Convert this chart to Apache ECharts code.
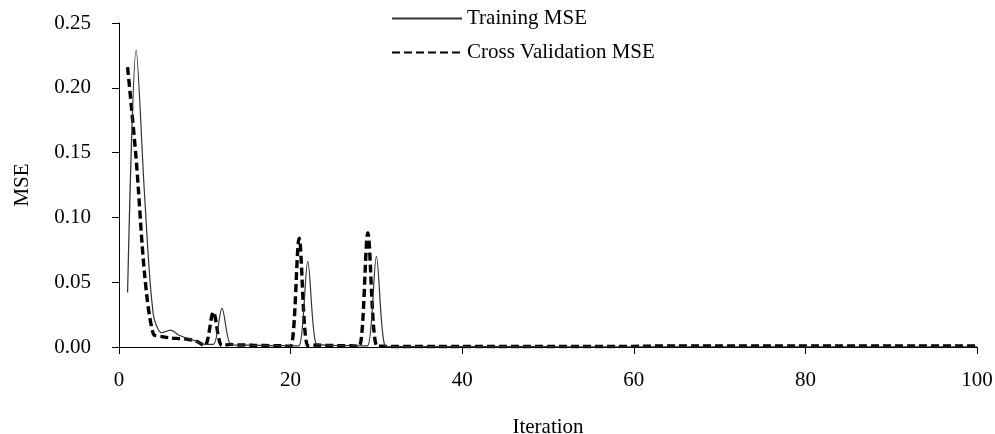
<!DOCTYPE html>
<html>
<head>
<meta charset="utf-8">
<script src="https://cdn.jsdelivr.net/npm/echarts@6/dist/echarts.min.js"></script>
<style>html,body{margin:0;padding:0;background:#fff;overflow:hidden}#c{width:995px;height:434px}</style>
</head>
<body>
<div id="c"></div>
<script>
var trainingMSE = [
  0.042, 0.229, 0.115, 0.025, 0.011, 0.013, 0.009, 0.0065, 0.0045, 0.002,
  0.002, 0.030, 0.002, 0.0015, 0.0015, 0.0012, 0.0012, 0.001, 0.001, 0.0008,
  0.001, 0.066, 0.002, 0.0015, 0.0012, 0.001, 0.001, 0.0008, 0.001, 0.070,
  0.001, 0.0004, 0.0004, 0.0003, 0.0003, 0.0003, 0.0003, 0.0003, 0.0003, 0.0003,
  0.0003, 0.0003, 0.0003, 0.0003, 0.0003, 0.0003, 0.0003, 0.0003, 0.0003, 0.0003,
  0.0002, 0.0002, 0.0002, 0.0002, 0.0002, 0.0002, 0.0002, 0.0002, 0.0002, 0.0002,
  0.0002, 0.0002, 0.0002, 0.0002, 0.0002, 0.0002, 0.0002, 0.0002, 0.0002, 0.0002,
  0.0002, 0.0002, 0.0002, 0.0002, 0.0002, 0.0002, 0.0002, 0.0002, 0.0002, 0.0002,
  0.0002, 0.0002, 0.0002, 0.0002, 0.0002, 0.0002, 0.0002, 0.0002, 0.0002, 0.0002,
  0.0002, 0.0002, 0.0002, 0.0002, 0.0002, 0.0002, 0.0002, 0.0002, 0.0002, 0.0002
];
var crossValidationMSE = [
  0.216, 0.145, 0.055, 0.010, 0.008, 0.007, 0.0065, 0.006, 0.0045, 0.001,
  0.027, 0.001, 0.002, 0.0015, 0.0015, 0.0012, 0.0012, 0.001, 0.001, 0.0005,
  0.084, 0.001, 0.0015, 0.0012, 0.0012, 0.001, 0.001, 0.0005, 0.088, 0.001,
  0.0005, 0.0004, 0.0004, 0.0004, 0.0004, 0.0004, 0.0004, 0.0004, 0.0004, 0.0004,
  0.0004, 0.0004, 0.0004, 0.0004, 0.0004, 0.0004, 0.0004, 0.0004, 0.0004, 0.0004,
  0.0004, 0.0004, 0.0004, 0.0004, 0.0004, 0.0004, 0.0004, 0.0004, 0.0005, 0.0005,
  0.0006, 0.0007, 0.0008, 0.0008, 0.0008, 0.0008, 0.0008, 0.0008, 0.0008, 0.0008,
  0.0008, 0.0008, 0.0008, 0.0008, 0.0008, 0.0008, 0.0008, 0.0008, 0.0008, 0.0008,
  0.0008, 0.0008, 0.0008, 0.0008, 0.0008, 0.0008, 0.0008, 0.0008, 0.0008, 0.0008,
  0.0008, 0.0008, 0.0008, 0.0008, 0.0008, 0.0008, 0.0008, 0.0008, 0.0008, 0.0008
];
var seriesNames = ['Training MSE', 'Cross Validation MSE'];
var xTicks = [0, 20, 40, 60, 80, 100];
var yTicks = [0, 0.05, 0.10, 0.15, 0.20, 0.25];

function pairs(arr) { return arr.map(function (v, i) { return [i + 1, v]; }); }

var font = 'Liberation Serif, Times New Roman, serif';
var chart = echarts.init(document.getElementById('c'), null, {renderer: 'canvas'});
chart.setOption({
  animation: false,
  backgroundColor: '#fff',
  grid: {left: 119, right: 18, top: 23, bottom: 87, containLabel: false, outerBoundsMode: 'none'},
  legend: {
    orient: 'vertical', left: 386, top: 3, itemWidth: 70, itemHeight: 12, itemGap: 13,
    itemStyle: {opacity: 0},
    textStyle: {fontFamily: font, fontSize: 21, color: '#000'},
    data: seriesNames
  },
  xAxis: {
    type: 'value', min: xTicks[0], max: xTicks[xTicks.length - 1], interval: 20,
    name: 'Iteration', nameLocation: 'middle', nameGap: 70,
    nameTextStyle: {fontFamily: font, fontSize: 21, color: '#000'},
    axisLine: {lineStyle: {color: '#000', width: 1}},
    axisTick: {show: true, inside: false, length: 7, lineStyle: {color: '#000'}},
    axisLabel: {fontFamily: font, fontSize: 21, color: '#000', margin: 23},
    splitLine: {show: false}
  },
  yAxis: {
    type: 'value', min: yTicks[0], max: yTicks[yTicks.length - 1], interval: 0.05,
    name: 'MSE', nameLocation: 'middle', nameGap: 86, nameRotate: 90,
    nameTextStyle: {fontFamily: font, fontSize: 21, color: '#000'},
    axisLine: {show: true, lineStyle: {color: '#000', width: 1}},
    axisTick: {show: true, inside: false, length: 7, lineStyle: {color: '#000'}},
    axisLabel: {fontFamily: font, fontSize: 21, color: '#000', margin: 28,
      formatter: function (v) { return v.toFixed(2); }},
    splitLine: {show: false}
  },
  series: [
    {
      name: seriesNames[0], type: 'line', data: pairs(trainingMSE),
      smooth: 0.3, showSymbol: false, symbol: 'none',
      lineStyle: {color: '#333', width: 1.2},
      itemStyle: {color: '#333'}, z: 3
    },
    {
      name: seriesNames[1], type: 'line', data: pairs(crossValidationMSE),
      smooth: 0.3, showSymbol: false, symbol: 'none',
      lineStyle: {color: '#000', width: 3.4, type: [8, 4]},
      itemStyle: {color: '#000'}, z: 2
    }
  ]
});
</script>
</body>
</html>
